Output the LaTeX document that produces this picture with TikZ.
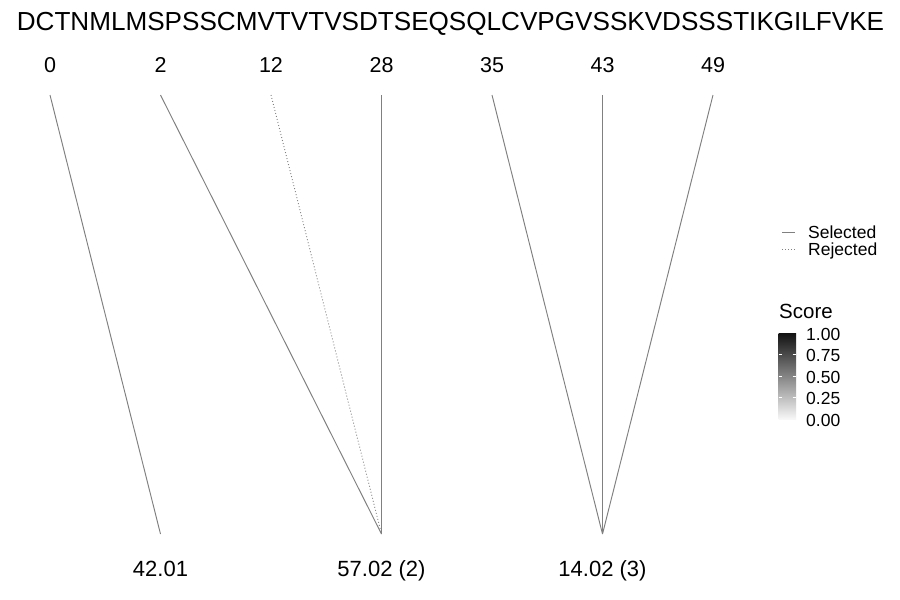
\documentclass[tikz,border=0pt]{standalone}
\usepackage{fontspec}
\setmainfont{Liberation Sans}
\begin{document}
\begin{tikzpicture}[x=1pt,y=-1pt,
  seqtext/.style={anchor=base,inner sep=0pt,font=\fontsize{26.1}{26.1}\selectfont},
  postext/.style={anchor=base,inner sep=0pt,font=\fontsize{21.5}{21.5}\selectfont},
  legtext/.style={anchor=base west,inner sep=0pt,font=\fontsize{17.5}{17.5}\selectfont},
  titletext/.style={anchor=base west,inner sep=0pt,font=\fontsize{20.5}{20.5}\selectfont},
  selline/.style={draw=black!50,line width=0.95pt},
  rejline/.style={draw=black!50,line width=0.9pt,dash pattern=on 0.9pt off 2.2pt},
  cbtick/.style={draw=white,line width=0.5pt}]
\useasboundingbox[fill=white] (0,0) rectangle (900,600);

% sequence
\node[seqtext] (seq) at (450.5,30) {DCTNMLMSPSSCMVTVTVSDTSEQSQLCVPGVSSKVDSSSTIKGILFVKE};

% top positions
\foreach \i/\lab in {0/0,1/2,2/12,3/28,4/35,5/43,6/49}{
  \pgfmathsetmacro{\xx}{50+110.5*\i}
  \node[postext] (p\i) at (\xx,72) {\lab};
  \coordinate (t\i) at (\xx,95);
}
% bottom positions
\coordinate (b1) at (160.5,534);
\coordinate (b3) at (381.5,534);
\coordinate (b5) at (602.5,534);
\node[postext,font=\fontsize{22}{22}\selectfont] (s1) at (b1 |- 0,576) {42.01};
\node[postext,font=\fontsize{22}{22}\selectfont] (s3) at (b3 |- 0,576) {57.02 (2)};
\node[postext,font=\fontsize{22}{22}\selectfont] (s5) at (b5 |- 0,576) {14.02 (3)};

% connectors
\draw[selline] (t0) -- (b1);
\draw[selline] (t1) -- (b3);
\draw[rejline] (t2) -- (b3);
\draw[selline] (t3) -- (b3);
\draw[selline] (t4) -- (b5);
\draw[selline] (t5) -- (b5);
\draw[selline] (t6) -- (b5);

% legend: line types
\coordinate (la) at (782,232);
\coordinate (lb) at (795,232);
\coordinate (lc) at (782,249);
\coordinate (ld) at (795,249);
\draw[selline] (la) -- (lb);
\draw[rejline] (lc) -- (ld);
\node[legtext] (lsel) at (808,238) {Selected};
\node[legtext] (lrej) at (808,255) {Rejected};

% legend: score colour bar
\node[titletext] (ltitle) at (779,318) {Score};
\shade[top color=black!93,bottom color=black!3] (778.5,333) rectangle (796,419);
\foreach \k/\lab in {0/1.00,1/0.75,2/0.50,3/0.25,4/0.00}{
  \pgfmathsetmacro{\yy}{333+21.5*\k}
  \node[legtext,anchor=west] (cb\k) at (806,\yy+1.2) {\lab};
}
\foreach \k in {1,2,3}{
  \pgfmathsetmacro{\yy}{333+21.5*\k}
  \draw[cbtick] (778.5,\yy) -- (782,\yy);
  \draw[cbtick] (792.5,\yy) -- (796,\yy);
}
\end{tikzpicture}
\end{document}
